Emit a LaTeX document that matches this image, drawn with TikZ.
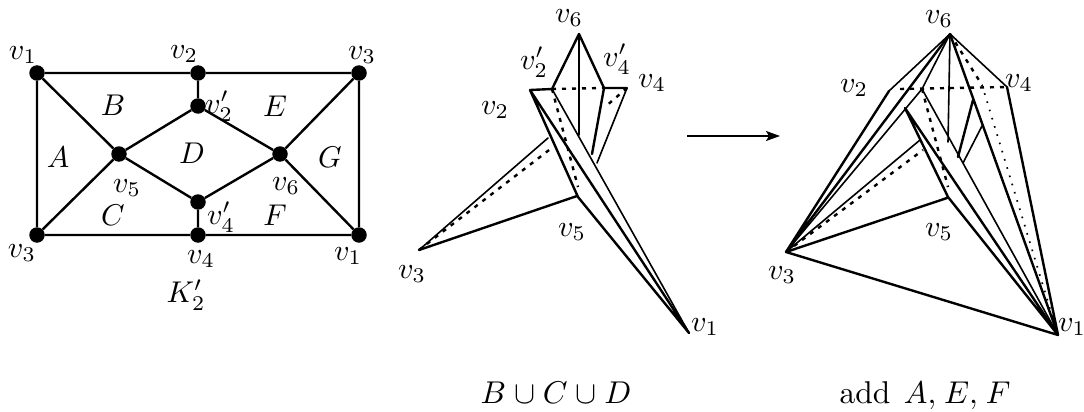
\documentclass[tikz,border=0pt]{standalone}
\usetikzlibrary{arrows.meta}
\tikzset{
  lbl/.style={inner sep=0pt,scale=3.0},
  captxt/.style={inner sep=0pt,scale=3.15,anchor=base},
  dot/.style={circle,fill=black,draw=none,inner sep=0pt,minimum size=15.5pt},
  thk/.style={line width=2.4pt,line cap=round},
  thn/.style={line width=1.6pt,line cap=round},
  dsh/.style={line width=2.4pt,dash pattern=on 4pt off 6pt},
  dts/.style={line width=1.7pt,dash pattern=on 1.6pt off 7pt},
  gedge/.style={line width=2.4pt}
}
\begin{document}
\begin{tikzpicture}[x=1pt,y=-1pt]
\useasboundingbox (0,0) rectangle (1084,412);
% left graph
\foreach \n/\x/\y in {a1/37/73,a2/198/73,a3/359/73,a2p/198/106,a5/119/154,a6/280/154,a4p/198/202,b3/37/235,a4/198/235,b1/359/235}
  \node[dot] (\n) at (\x,\y) {};
\draw[gedge] (a1)--(a2) (a2)--(a3) (a1)--(b3) (b3)--(a4) (a4)--(b1) (a3)--(b1)
  (a2)--(a2p) (a4)--(a4p) (a1)--(a5) (b3)--(a5) (a3)--(a6) (b1)--(a6)
  (a5)--(a2p) (a2p)--(a6) (a5)--(a4p) (a4p)--(a6);
\foreach \n/\x/\y/\t in {l1/23/55/{v_1},l2/184/54/{v_2},l3/362/55/{v_3},l4/219/106/{v_2'},l5/127/188/{v_5},l6/286/186/{v_6},l7/221/217/{v_4'},l8/22/253/{v_3},l9/201/259/{v_4},l10/348/256/{v_1},
 lA/58/157/A,lB/113/105/B,lC/113/215/C,lD/192/153/D,lE/275/106/E,lF/275/215/F,lG/330/157/G,lK/186/295/{K_2'},
 m6/569/18/{v_6},m2p/534/62/{v_2'},m4p/617/59/{v_4'},m4/652/83/{v_4},m2/495/110/{v_2},m5/572/232/{v_5},m3/412/274/{v_3},m1/705/327/{v_1},
 r6/939/19/{v_6},r2/854/88/{v_2},r4/1019/83/{v_4},r5/939/232/{v_5},r3/782/275/{v_3},r1/1072/327/{v_1}}
  \node[lbl] (\n) at (\x,\y) {$\t$};
\node[captxt] (mc) at (556,403) {$B\mkern.5mu\cup\mkern.5mu C\mkern.5mu\cup\mkern.5mu D$};
\node[captxt] (rc) at (925,403) {add\hspace{1pt} $A,\mkern1.5mu E,\mkern1.5mu F$};
% middle figure
\foreach \n/\x/\y in {p6/579/34,p2/530/90,p2q/552/89,p4q/604/88,p4/627/88,p3/419/250,p5/578/197,p1/689/333,
  pa/579/135,pb/592/154,pc/597/163,pd/605/107,pe/548/138,pf/553/147,pg/578/187,ph/577/196}
  \coordinate (\n) at (\x,\y);
\draw[thk] (p6)--(p2q) (p6)--(p4q) (p2)--(p2q) (p4q)--(p4) (p4q)--(pb) (p2)--(p5) (p2)--(p1) (p5)--(p1) (p3)--(ph);
\draw[thn] (p6)--(pa) (p4)--(pc) (p2q)--(p1) (p3)--(pe);
\draw[dsh] (p2q)--(p4q) (p4)--(pd) (p2q)--(pg) (p3)--(pf);
% right figure
\foreach \n/\x/\y in {q6/950/34,q2/889/91,q2s/900/89,q2q/922/89,q4/1007/87,q3/786/252,q1/1058/335,q5/948/197,
  qa/948/142,qb/973/100,qc/958/157,qd/982/126,qe/963/163,qf/982/85,qg/905/108,qh/920/140,qi/923/150,qj/947/198,qk/948/187}
  \coordinate (\n) at (\x,\y);
\draw[thk] (q2)--(q3) (q6)--(q3) (qg)--(q5) (qg)--(q1) (q5)--(q1) (qb)--(qc) (q6)--(q1) (q4)--(q1) (q3)--(qj) (q3)--(q1);
\draw[thn] (q6)--(q2) (q6)--(q2q) (q2q)--(q3) (q2q)--(q1) (q6)--(qa) (qd)--(qe) (q6)--(q4) (q3)--(qh);
\draw[dsh] (q2s)--(q4) (q2q)--(qk) (q6)--(qf) (q3)--(qi);
\draw[dts] (qf)--(q1);
% arrow
\coordinate (s) at (687,136);
\coordinate (t) at (780,136);
\draw[line width=1.4pt,-{Stealth[length=14pt,width=10pt,inset=3pt]}] (s)--(t);
\end{tikzpicture}
\end{document}
